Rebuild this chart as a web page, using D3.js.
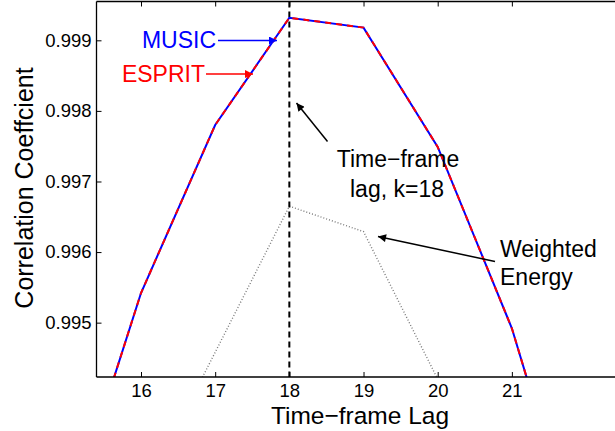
<!DOCTYPE html>
<html>
<head>
<meta charset="utf-8">
<script src="https://cdn.jsdelivr.net/npm/d3@7/dist/d3.min.js"></script>
<style>
  html, body { margin: 0; padding: 0; background: #fff; }
  svg { display: block; font-family: "Liberation Sans", Arial, Helvetica, sans-serif; }
</style>
</head>
<body>
<svg id="chart" width="615" height="431"></svg>
<script>
// Correlation coefficient versus time-frame lag
const lags = [15, 16, 17, 18, 19, 20, 21, 22];
const musicValues  = [0.99213, 0.99542, 0.99780, 0.99932, 0.99918, 0.99749, 0.99492, 0.99143];
const espritValues = [0.99213, 0.99542, 0.99780, 0.99932, 0.99918, 0.99749, 0.99492, 0.99143];
const energyLags   = [16, 17, 18, 19, 20, 21];
const energyValues = [0.99252, 0.99458, 0.99665, 0.99629, 0.99420, 0.99200];
const xTicks = [16, 17, 18, 19, 20, 21];
const yTicks = [0.995, 0.996, 0.997, 0.998, 0.999];
const chosenLag = 18;

(function () {
const svg = d3.select("#chart");
const plotLeft = 96.5, plotRight = 615.7, plotTop = 1.5, plotBottom = 377;

const x = d3.scaleLinear().domain([15.4, 22.4]).range([plotLeft, plotRight]);
const y = d3.scaleLinear().domain([0.99423, 0.99955]).range([plotBottom, plotTop]);

const defs = svg.append("defs");
defs.append("clipPath").attr("id", "plotArea")
  .append("rect").attr("x", plotLeft).attr("y", plotTop)
  .attr("width", plotRight - plotLeft).attr("height", plotBottom - plotTop);

function marker(id, color) {
  defs.append("marker").attr("id", id)
    .attr("viewBox", "0 0 10 10").attr("refX", 10).attr("refY", 5)
    .attr("markerWidth", 11).attr("markerHeight", 8)
    .attr("markerUnits", "userSpaceOnUse")
    .attr("orient", "auto")
    .append("path").attr("d", "M0,0 L10,5 L0,10 Z").attr("fill", color);
}
marker("headBlue", "#0000ff");
marker("headRed", "#ff0000");
marker("headBlack", "#000");

const plot = svg.append("g").attr("clip-path", "url(#plotArea)");

const lineOf = (xs) => d3.line().x((d, i) => x(xs[i])).y(d => y(d));

// weighted energy (dotted gray)
plot.append("path").datum(energyValues)
  .attr("d", lineOf(energyLags))
  .attr("fill", "none").attr("stroke", "#7a7a7a")
  .attr("stroke-width", 1.4).attr("stroke-dasharray", "1,2");

// chosen lag marker
plot.append("line")
  .attr("x1", x(chosenLag)).attr("x2", x(chosenLag))
  .attr("y1", plotTop).attr("y2", plotBottom)
  .attr("stroke", "#000").attr("stroke-width", 2)
  .attr("stroke-dasharray", "6,4");

// MUSIC (solid blue) and ESPRIT (dashed red)
plot.append("path").datum(musicValues)
  .attr("d", lineOf(lags))
  .attr("fill", "none").attr("stroke", "#0000ff").attr("stroke-width", 2);
plot.append("path").datum(espritValues)
  .attr("d", lineOf(lags))
  .attr("fill", "none").attr("stroke", "#ff0000").attr("stroke-width", 2)
  .attr("stroke-dasharray", "6,5");

// axes box with inward ticks
const axisG = svg.append("g");
axisG.append("line").attr("x1", plotLeft).attr("x2", plotRight).attr("y1", plotBottom).attr("y2", plotBottom)
  .attr("stroke", "#000").attr("stroke-width", 1.3);
axisG.append("line").attr("x1", plotLeft).attr("x2", plotRight).attr("y1", plotTop).attr("y2", plotTop)
  .attr("stroke", "#000").attr("stroke-width", 1.3);
axisG.append("line").attr("x1", plotLeft).attr("x2", plotLeft).attr("y1", plotTop).attr("y2", plotBottom)
  .attr("stroke", "#000").attr("stroke-width", 1.3);

const xAxisBottom = d3.axisBottom(x).tickValues(xTicks).tickSizeInner(-5).tickSizeOuter(0)
  .tickFormat(d3.format("d"));
const xb = svg.append("g").attr("transform", `translate(0,${plotBottom})`).call(xAxisBottom);
const xAxisTop = d3.axisTop(x).tickValues(xTicks).tickSizeInner(-5).tickSizeOuter(0).tickFormat("");
const xt = svg.append("g").attr("transform", `translate(0,${plotTop})`).call(xAxisTop);
const yAxis = d3.axisLeft(y).tickValues(yTicks).tickSizeInner(-5).tickSizeOuter(0).tickPadding(5)
  .tickFormat(d3.format(".3f"));
const ya = svg.append("g").attr("transform", `translate(${plotLeft},0)`).call(yAxis);

[xb, xt, ya].forEach(g => {
  g.select(".domain").remove();
  g.selectAll(".tick line").attr("stroke", "#000").attr("stroke-width", 1);
  g.selectAll(".tick text").attr("fill", "#000").style("font-size", "18.5px")
    .style("font-family", "'Liberation Sans', Arial, sans-serif");
});
xb.selectAll(".tick text").attr("dy", null).attr("y", 20);

// axis titles
svg.append("text").attr("x", 360).attr("y", 424).attr("text-anchor", "middle")
  .style("font-size", "24.5px").text("Time\u2212frame Lag");
svg.append("text").attr("transform", "translate(33,188) rotate(-90)")
  .attr("text-anchor", "middle").style("font-size", "25px")
  .text("Correlation Coeffcient");

// annotations
svg.append("text").attr("x", 216).attr("y", 48).attr("text-anchor", "end")
  .attr("fill", "#0000ff").style("font-size", "23px").text("MUSIC");
svg.append("line").attr("x1", 218).attr("y1", 40.5).attr("x2", 277).attr("y2", 40.5)
  .attr("stroke", "#0000ff").attr("stroke-width", 1.5).attr("marker-end", "url(#headBlue)");

svg.append("text").attr("x", 205).attr("y", 81.5).attr("text-anchor", "end")
  .attr("fill", "#ff0000").style("font-size", "23px").text("ESPRIT");
svg.append("line").attr("x1", 206).attr("y1", 74).attr("x2", 253).attr("y2", 74)
  .attr("stroke", "#ff0000").attr("stroke-width", 1.5).attr("marker-end", "url(#headRed)");

svg.append("text").attr("x", 398).attr("y", 167).attr("text-anchor", "middle")
  .style("font-size", "23px").text("Time\u2212frame");
svg.append("text").attr("x", 397).attr("y", 197).attr("text-anchor", "middle")
  .style("font-size", "23px").text("lag, k=18");
svg.append("line").attr("x1", 327.5).attr("y1", 141.5).attr("x2", 296.5).attr("y2", 103)
  .attr("stroke", "#000").attr("stroke-width", 1.5).attr("marker-end", "url(#headBlack)");

svg.append("text").attr("x", 500).attr("y", 256.5)
  .style("font-size", "23px").text("Weighted");
svg.append("text").attr("x", 500).attr("y", 284.5)
  .style("font-size", "23px").text("Energy");
svg.append("line").attr("x1", 495).attr("y1", 261.5).attr("x2", 378).attr("y2", 236.5)
  .attr("stroke", "#000").attr("stroke-width", 1.5).attr("marker-end", "url(#headBlack)");
})();
</script>
</body>
</html>
